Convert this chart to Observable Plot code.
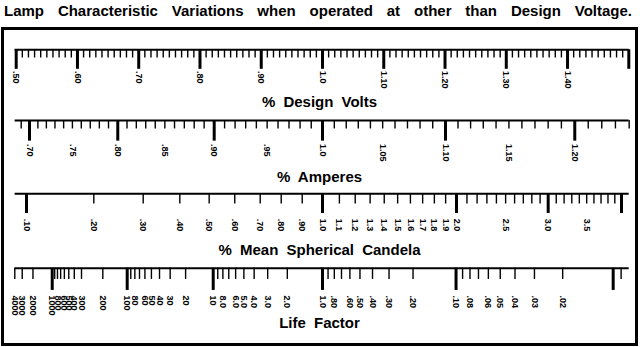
<!DOCTYPE html>
<html><head><meta charset="utf-8">
<script src="https://cdn.jsdelivr.net/npm/d3@7"></script>
<script src="https://cdn.jsdelivr.net/npm/@observablehq/plot@0.6"></script>
<style>
html,body{margin:0;padding:0;background:#fff;}
#wrap{position:relative;width:640px;height:347px;overflow:hidden;font-family:"Liberation Sans",Arial,sans-serif;}
#title{position:absolute;left:4px;width:628px;top:0;height:21px;line-height:21px;display:flex;justify-content:space-between;font-weight:bold;font-size:15px;color:#000;}
#chart{position:absolute;left:0;top:27px;}
#box{position:absolute;left:1px;top:27px;width:637px;height:319px;box-sizing:border-box;border:3px solid #000;pointer-events:none;}
</style></head><body>
<div id="wrap"><div id="title"></div><div id="chart"></div><div id="box"></div></div>
<script>
// ---------- text ----------
const chartTitle = "Lamp Characteristic Variations when operated at other than Design Voltage.";
const rowNames = ["volts", "amps", "candela", "life"];
const rowTitles = ["% Design Volts", "% Amperes", "% Mean Spherical Candela", "Life Factor"];

// ---------- % Design Volts (reference, linear) ----------
const voltsTickValues = d3.range(50, 151).map(d => d / 100);
const voltsMajorValues = [0.5, 0.6, 0.7, 0.8, 0.9, 1.0, 1.1, 1.2, 1.3, 1.4, 1.5];
const voltsLabelValues = [0.5, 0.6, 0.7, 0.8, 0.9, 1.0, 1.1, 1.2, 1.3, 1.4];
const voltsLabels = [".50", ".60", ".70", ".80", ".90", "1.0", "1.10", "1.20", "1.30", "1.40"];

// ---------- % Amperes ----------
const ampsTickValues = d3.range(69, 125).map(d => d / 100);
const ampsMajorValues = [0.7, 0.8, 0.9, 1.0, 1.1, 1.2];
const ampsLabelValues = [0.70, 0.75, 0.80, 0.85, 0.90, 0.95, 1.00, 1.05, 1.10, 1.15, 1.20];
const ampsLabels = [".70", ".75", ".80", ".85", ".90", ".95", "1.0", "1.05", "1.10", "1.15", "1.20"];
// amperes value and the % design volts it lines up with
const ampsAnchorValues = [0.70, 0.80, 0.90, 1.00, 1.10, 1.20];
const ampsAnchorVolts  = [0.5217, 0.6658, 0.8232, 1.0, 1.2008, 1.4118];

// ---------- % Mean Spherical Candela ----------
const candelaTickValues = d3.range(1, 41).map(d => d / 10);
const candelaMajorValues = [0.1, 1.0, 2.0, 3.0, 4.0];
const candelaLabelValues = [0.1, 0.2, 0.3, 0.4, 0.5, 0.6, 0.7, 0.8, 0.9, 1.0, 1.1, 1.2, 1.3, 1.4, 1.5, 1.6, 1.7, 1.8, 1.9, 2.0, 2.5, 3.0, 3.5];
const candelaLabels = [".10", ".20", ".30", ".40", ".50", ".60", ".70", ".80", ".90", "1.0", "1.1", "1.2", "1.3", "1.4", "1.5", "1.6", "1.7", "1.8", "1.9", "2.0", "2.5", "3.0", "3.5"];
const candelaAnchorValues = [0.1, 0.2, 0.3, 0.4, 0.5, 0.6, 0.7, 0.8, 0.9, 1.0, 2.0, 3.0, 4.0];
const candelaAnchorVolts  = [0.5168, 0.6267, 0.7073, 0.7671, 0.8150, 0.8568, 0.8983, 0.9326, 0.9669, 1.0, 1.2187, 1.3684, 1.4881];

// ---------- Life Factor ----------
const lifeTickValues = [4000, 3000, 2000, 1000, 900, 800, 700, 600, 500, 400, 300, 200, 100, 90, 80, 70, 60, 50, 40, 30, 20, 10, 9, 8, 7, 6, 5, 4, 3, 2, 1, 0.9, 0.8, 0.7, 0.6, 0.5, 0.4, 0.3, 0.2, 0.1, 0.09, 0.08, 0.07, 0.06, 0.05, 0.04, 0.03, 0.02, 0.01, 0.009];
const lifeMajorValues = [1000, 100, 10, 1, 0.1, 0.01];
const lifeLabelValues = [4000, 3000, 2000, 1000, 800, 600, 500, 400, 300, 200, 100, 80, 60, 50, 40, 30, 20, 10, 8, 6, 5, 4, 3, 2, 1, 0.8, 0.6, 0.5, 0.4, 0.3, 0.2, 0.1, 0.08, 0.06, 0.05, 0.04, 0.03, 0.02];
const lifeLabels = ["4000", "3000", "2000", "1000", "800", "600", "500", "400", "300", "200", "100", "80", "60", "50", "40", "30", "20", "10", "8.0", "6.0", "5.0", "4.0", "3.0", "2.0", "1.0", ".80", ".60", ".50", ".40", ".30", ".20", ".10", ".08", ".06", ".05", ".04", ".03", ".02"];
const lifeAnchorValues = [4000, 1000, 300, 200, 100, 10, 1, 0.1, 0.01];
const lifeAnchorVolts  = [0.4977, 0.5588, 0.6066, 0.6414, 0.6812, 0.8216, 1.0, 1.2180, 1.4745];

// ---------- layout / style (not data) ----------
const rowStyle = {
  volts:   {base: 1.0,   major: 20.5, minor: 9.2,  label: 22.2, title: 53.2},
  amps:    {base: -1.15, major: 19.5, minor: 7.3,  label: 22.3, title: 55.3},
  candela: {base: -0.7,  major: 19.0, minor: 9.5,  label: 24.3, title: 56.0},
  life:    {base: 0.85,  major: 23.1, minor: 12.1, label: 28.1, title: 56.1}
};

// title words spread across the top
const titleDiv = document.getElementById("title");
chartTitle.split(" ").forEach(w => { const s = document.createElement("span"); s.textContent = w; titleDiv.appendChild(s); });

// log-log mapping of each scale onto the % design volts axis
function logLogScale(values, volts) {
  const s = d3.scaleLinear().domain(values.map(Math.log)).range(volts.map(Math.log));
  return v => Math.exp(s(Math.log(v)));
}
const conv = {
  volts: v => v,
  amps: logLogScale(ampsAnchorValues, ampsAnchorVolts),
  candela: logLogScale(candelaAnchorValues, candelaAnchorVolts),
  life: logLogScale(lifeAnchorValues, lifeAnchorVolts)
};
const spec = {
  volts:   [voltsTickValues, voltsMajorValues, voltsLabelValues, voltsLabels],
  amps:    [ampsTickValues, ampsMajorValues, ampsLabelValues, ampsLabels],
  candela: [candelaTickValues, candelaMajorValues, candelaLabelValues, candelaLabels],
  life:    [lifeTickValues, lifeMajorValues, lifeLabelValues, lifeLabels]
};
const ticks = [], labels = [];
for (const row of rowNames) {
  const [tv, mv, lv, lt] = spec[row];
  const isMajor = v => mv.some(m => Math.abs(m - v) < 1e-9 * Math.max(1, m));
  tv.forEach(v => ticks.push({row, value: v, v: conv[row](v), major: isMajor(v)}));
  lv.forEach((v, i) => labels.push({row, value: v, v: conv[row](v), label: lt[i]}));
}
const titles = rowNames.map((row, i) => ({row, text: rowTitles[i]}));

const chart = Plot.plot({
  width: 640,
  height: 320,
  marginLeft: 15.7,
  marginRight: 11.7,
  marginTop: 21.3,
  marginBottom: 7.3,
  style: "font-family: 'Liberation Sans', Arial, sans-serif; word-spacing: 4px; background: transparent; color: #000;",
  x: {domain: [0.5, 1.5], axis: null},
  y: {domain: [0, 72.85], reverse: true, axis: null},
  fy: {domain: rowNames, padding: 0, round: false, axis: null},
  marks: [
    Plot.ruleY(rowNames, {fy: d => d, y: d => rowStyle[d].base, x1: () => 0.4982, x2: () => 1.5006, stroke: "#000", strokeWidth: 2}),
    Plot.ruleX(ticks.filter(d => !d.major), {fy: "row", x: "v", y1: d => rowStyle[d.row].base, y2: d => rowStyle[d.row].minor, stroke: "#000", strokeWidth: 1.4}),
    Plot.ruleX(ticks.filter(d => d.major), {fy: "row", x: "v", y1: d => rowStyle[d.row].base, y2: d => rowStyle[d.row].major, stroke: "#000", strokeWidth: 3}),
    Plot.text(labels, {fy: "row", x: "v", y: d => rowStyle[d.row].label, text: "label", rotate: 90, textAnchor: "start", fontSize: 9, fontWeight: "bold", fill: "#000"}),
    Plot.text(titles, {fy: "row", y: d => rowStyle[d.row].title, text: "text", fontSize: 15, fontWeight: "bold", fill: "#000", dx: -3})
  ]
});
document.getElementById("chart").appendChild(chart);
</script>
</body></html>
